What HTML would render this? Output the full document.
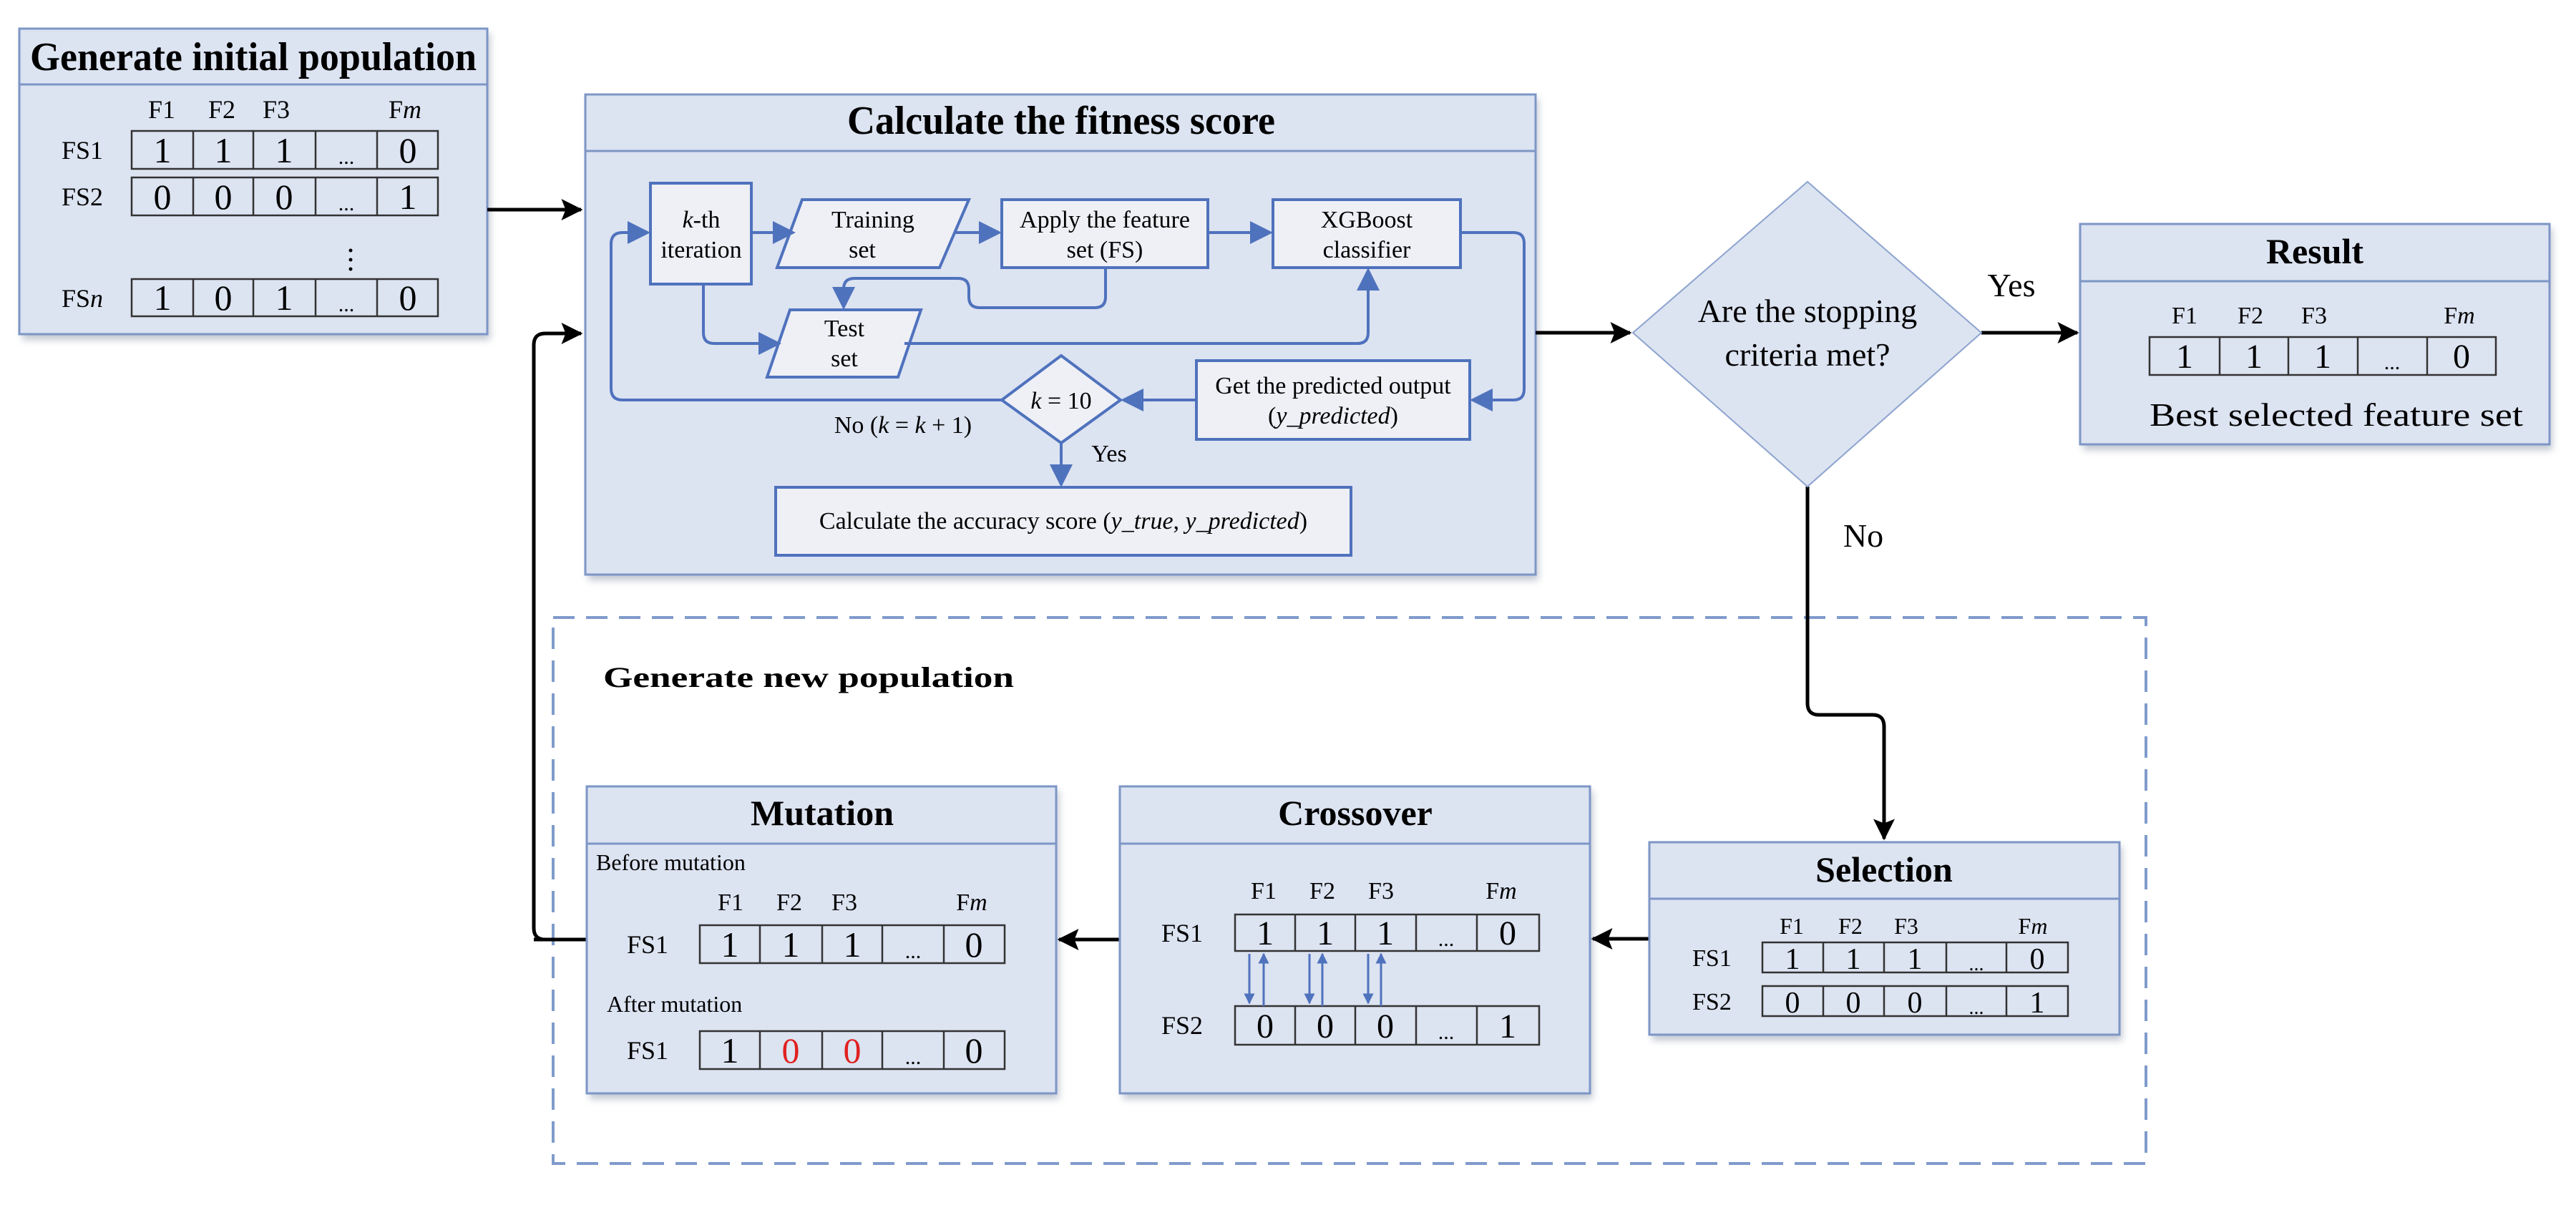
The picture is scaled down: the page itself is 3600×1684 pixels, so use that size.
<!DOCTYPE html>
<html><head><meta charset="utf-8"><style>
html,body{margin:0;padding:0;background:#fff}
svg{display:block;font-family:"Liberation Serif","DejaVu Serif",serif}
svg text{font-family:"Liberation Serif","DejaVu Serif",serif}
.box{fill:#dce3f1;stroke:#7d96c6;stroke-width:3}
.ib{fill:#eef0f6;stroke:#4f72bd;stroke-width:4}
.bl{stroke:#4f72bd;stroke-width:4;fill:none}
.k{stroke:#000;stroke-width:5;fill:none}
.cell{fill:none;stroke:#333;stroke-width:2.5}
.t{font-weight:bold}
</style></head><body>
<svg width="3600" height="1684" viewBox="0 0 3600 1684" xmlns="http://www.w3.org/2000/svg" font-family="Liberation Serif, DejaVu Serif, serif">
<defs>
<marker id="ab" markerWidth="8" markerHeight="8" refX="7" refY="4" orient="auto" markerUnits="strokeWidth"><path d="M0,0 L8,4 L0,8 z" fill="#4f72bd"/></marker>
<marker id="ak" markerWidth="6" markerHeight="6" refX="5.5" refY="3" orient="auto" markerUnits="strokeWidth"><path d="M0,0 L6,3 L0,6 L1.2,3 z" fill="#000"/></marker>
<marker id="as" markerWidth="5" markerHeight="5" refX="4.5" refY="2.5" orient="auto" markerUnits="strokeWidth"><path d="M0,0 L5,2.5 L0,5 z" fill="#4f72bd"/></marker>
<filter id="sh" x="-5%" y="-5%" width="110%" height="115%"><feGaussianBlur stdDeviation="5"/></filter>
</defs>

<g fill="#9aa3b5" opacity="0.6" filter="url(#sh)">
<rect x="31" y="46" width="654" height="429"/>
<rect x="822" y="138" width="1328" height="673"/>
<rect x="2911" y="319" width="656" height="310"/>
<rect x="824" y="1105" width="656" height="431"/>
<rect x="1569" y="1105" width="657" height="431"/>
<rect x="2309" y="1183" width="657" height="271"/>
</g>

<rect x="773" y="863" width="2226" height="763" fill="none" stroke="#7f9bcb" stroke-width="4" stroke-dasharray="30,16"/>
<text x="843" y="960" class="t" font-size="40" textLength="574" lengthAdjust="spacingAndGlyphs">Generate new population</text>

<rect class="box" x="27" y="40" width="654" height="427"/>
<line x1="27" y1="118" x2="681" y2="118" stroke="#7d96c6" stroke-width="3"/>
<text x="42" y="98" class="t" font-size="56" textLength="624" lengthAdjust="spacingAndGlyphs">Generate initial population</text>
<g font-size="36" text-anchor="middle">
<text x="226" y="165">F1</text><text x="310" y="165">F2</text><text x="386" y="165">F3</text><text x="566" y="165">F<tspan font-style="italic">m</tspan></text>
</g>
<g font-size="36">
<text x="86" y="222">FS1</text><text x="86" y="287">FS2</text><text x="86" y="429">FS<tspan font-style="italic">n</tspan></text>
</g>
<g class="cell">
<rect x="184" y="183" width="428" height="53"/><line x1="270" y1="183" x2="270" y2="236"/><line x1="354" y1="183" x2="354" y2="236"/><line x1="441" y1="183" x2="441" y2="236"/><line x1="527" y1="183" x2="527" y2="236"/>
<rect x="184" y="248" width="428" height="53"/><line x1="270" y1="248" x2="270" y2="301"/><line x1="354" y1="248" x2="354" y2="301"/><line x1="441" y1="248" x2="441" y2="301"/><line x1="527" y1="248" x2="527" y2="301"/>
<rect x="184" y="390" width="428" height="52"/><line x1="270" y1="390" x2="270" y2="442"/><line x1="354" y1="390" x2="354" y2="442"/><line x1="441" y1="390" x2="441" y2="442"/><line x1="527" y1="390" x2="527" y2="442"/>
</g>
<g font-size="50" text-anchor="middle">
<text x="227" y="227">1</text><text x="312" y="227">1</text><text x="397" y="227">1</text><text x="484" y="229" font-size="30">...</text><text x="570" y="227">0</text>
<text x="227" y="292">0</text><text x="312" y="292">0</text><text x="397" y="292">0</text><text x="484" y="294" font-size="30">...</text><text x="570" y="292">1</text>
<text x="227" y="433">1</text><text x="312" y="433">0</text><text x="397" y="433">1</text><text x="484" y="435" font-size="30">...</text><text x="570" y="433">0</text>
</g>
<g fill="#000"><circle cx="490" cy="350" r="2.5"/><circle cx="490" cy="363" r="2.5"/><circle cx="490" cy="376" r="2.5"/></g>

<rect class="box" x="818" y="132" width="1328" height="671"/>
<line x1="818" y1="211" x2="2146" y2="211" stroke="#7d96c6" stroke-width="3"/>
<text x="1184" y="187" class="t" font-size="56" textLength="598" lengthAdjust="spacingAndGlyphs">Calculate the fitness score</text>

<rect class="ib" x="909" y="256" width="141" height="141"/>
<polygon class="ib" points="1121,279 1354,279 1313,374 1086,374"/>
<rect class="ib" x="1400" y="279" width="288" height="95"/>
<rect class="ib" x="1779" y="279" width="262" height="95"/>
<polygon class="ib" points="1104,433 1287,433 1255,527 1072,527"/>
<polygon class="ib" points="1483,497 1566,559 1483,619 1400,559"/>
<rect class="ib" x="1672" y="504" width="382" height="110"/>
<rect class="ib" x="1084" y="681" width="804" height="95"/>

<g font-size="34" text-anchor="middle">
<text x="980" y="318"><tspan font-style="italic">k</tspan>-th</text>
<text x="980" y="360">iteration</text>
<text x="1220" y="318">Training</text><text x="1205" y="360">set</text>
<text x="1544" y="318">Apply the feature</text><text x="1544" y="360">set (FS)</text>
<text x="1910" y="318">XGBoost</text><text x="1910" y="360">classifier</text>
<text x="1180" y="470">Test</text><text x="1180" y="512">set</text>
<text x="1483" y="571"><tspan font-style="italic">k</tspan> = 10</text>
<text x="1863" y="550">Get the predicted output</text>
<text x="1863" y="592">(<tspan font-style="italic">y_predicted</tspan>)</text>
<text x="1486" y="739">Calculate the accuracy score (<tspan font-style="italic">y_true</tspan>, <tspan font-style="italic">y_predicted</tspan>)</text>
<text x="1262" y="605">No (<tspan font-style="italic">k</tspan> = <tspan font-style="italic">k</tspan> + 1)</text>
<text x="1550" y="645">Yes</text>
</g>

<g class="bl">
<path d="M1400,559 H870 Q854,559 854,543 V341 Q854,325 870,325 H905" marker-end="url(#ab)"/>
<path d="M1050,325 H1108" marker-end="url(#ab)"/>
<path d="M1334,325 H1396" marker-end="url(#ab)"/>
<path d="M1688,325 H1775" marker-end="url(#ab)"/>
<path d="M1545,374 V415 Q1545,430 1530,430 H1369 Q1354,430 1354,415 V404 Q1354,389 1339,389 H1194 Q1179,389 1179,404 V429" marker-end="url(#ab)"/>
<path d="M983,397 V465 Q983,480 998,480 H1088" marker-end="url(#ab)"/>
<path d="M1264,480 H1897 Q1912,480 1912,465 V378" marker-end="url(#ab)"/>
<path d="M2041,325 H2115 Q2130,325 2130,340 V544 Q2130,559 2115,559 H2058" marker-end="url(#ab)"/>
<path d="M1672,559 H1570" marker-end="url(#ab)"/>
<path d="M1483,619 V677" marker-end="url(#ab)"/>
</g>

<path class="k" d="M681,293 H812" marker-end="url(#ak)"/>
<path class="k" d="M746,1313 H762 Q746,1313 746,1297 V482 Q746,466 762,466 H812" marker-end="url(#ak)"/>
<path class="k" d="M820,1313 H746" />
<path class="k" d="M2146,465 H2278" marker-end="url(#ak)"/>
<path class="k" d="M2769,465 H2903" marker-end="url(#ak)"/>
<path class="k" d="M2526,680 V983 Q2526,999 2542,999 H2617 Q2633,999 2633,1015 V1172" marker-end="url(#ak)"/>
<path class="k" d="M2305,1312 H2226" marker-end="url(#ak)"/>
<path class="k" d="M1565,1313 H1480" marker-end="url(#ak)"/>

<polygon points="2526,254 2769,465 2526,680 2282,465" fill="#dce3f1" stroke="#8da3cf" stroke-width="2"/>
<g font-size="46" text-anchor="middle">
<text x="2526" y="450">Are the stopping</text>
<text x="2526" y="511">criteria met?</text>
<text x="2811" y="414">Yes</text>
<text x="2604" y="764">No</text>
</g>

<rect class="box" x="2907" y="313" width="656" height="308"/>
<line x1="2907" y1="393" x2="3563" y2="393" stroke="#7d96c6" stroke-width="3"/>
<text x="3235" y="368" class="t" font-size="50" text-anchor="middle">Result</text>
<g font-size="34" text-anchor="middle">
<text x="3053" y="452">F1</text><text x="3145" y="452">F2</text><text x="3234" y="452">F3</text><text x="3437" y="452">F<tspan font-style="italic">m</tspan></text>
</g>
<g class="cell">
<rect x="3004" y="471" width="484" height="53"/><line x1="3102" y1="471" x2="3102" y2="524"/><line x1="3198" y1="471" x2="3198" y2="524"/><line x1="3295" y1="471" x2="3295" y2="524"/><line x1="3392" y1="471" x2="3392" y2="524"/>
</g>
<g font-size="48" text-anchor="middle">
<text x="3053" y="514">1</text><text x="3150" y="514">1</text><text x="3246" y="514">1</text><text x="3343" y="516" font-size="30">...</text><text x="3440" y="514">0</text>
</g>
<text x="3265" y="595" font-size="46" text-anchor="middle" textLength="522" lengthAdjust="spacingAndGlyphs">Best selected feature set</text>

<rect class="box" x="820" y="1099" width="656" height="429"/>
<line x1="820" y1="1179" x2="1476" y2="1179" stroke="#7d96c6" stroke-width="3"/>
<text x="1149" y="1153" class="t" font-size="50" text-anchor="middle">Mutation</text>
<text x="833" y="1216" font-size="32">Before mutation</text>
<text x="848" y="1414" font-size="32">After mutation</text>
<g font-size="34" text-anchor="middle">
<text x="1021" y="1272">F1</text><text x="1103" y="1272">F2</text><text x="1180" y="1272">F3</text><text x="1358" y="1272">F<tspan font-style="italic">m</tspan></text>
</g>
<g font-size="36"><text x="876" y="1332">FS1</text><text x="876" y="1480">FS1</text></g>
<g class="cell">
<rect x="978" y="1293" width="426" height="53"/><line x1="1062" y1="1293" x2="1062" y2="1346"/><line x1="1149" y1="1293" x2="1149" y2="1346"/><line x1="1233" y1="1293" x2="1233" y2="1346"/><line x1="1319" y1="1293" x2="1319" y2="1346"/>
<rect x="978" y="1441" width="426" height="53"/><line x1="1062" y1="1441" x2="1062" y2="1494"/><line x1="1149" y1="1441" x2="1149" y2="1494"/><line x1="1233" y1="1441" x2="1233" y2="1494"/><line x1="1319" y1="1441" x2="1319" y2="1494"/>
</g>
<g font-size="50" text-anchor="middle">
<text x="1020" y="1337">1</text><text x="1105" y="1337">1</text><text x="1191" y="1337">1</text><text x="1276" y="1339" font-size="30">...</text><text x="1361" y="1337">0</text>
<text x="1020" y="1485">1</text><text x="1105" y="1485" fill="#e02020">0</text><text x="1191" y="1485" fill="#e02020">0</text><text x="1276" y="1487" font-size="30">...</text><text x="1361" y="1485">0</text>
</g>

<rect class="box" x="1565" y="1099" width="657" height="429"/>
<line x1="1565" y1="1179" x2="2222" y2="1179" stroke="#7d96c6" stroke-width="3"/>
<text x="1894" y="1153" class="t" font-size="50" text-anchor="middle">Crossover</text>
<g font-size="34" text-anchor="middle">
<text x="1766" y="1256">F1</text><text x="1848" y="1256">F2</text><text x="1930" y="1256">F3</text><text x="2098" y="1256">F<tspan font-style="italic">m</tspan></text>
</g>
<g font-size="36"><text x="1623" y="1316">FS1</text><text x="1623" y="1445">FS2</text></g>
<g class="cell">
<rect x="1726" y="1278" width="425" height="51"/><line x1="1810" y1="1278" x2="1810" y2="1329"/><line x1="1894" y1="1278" x2="1894" y2="1329"/><line x1="1979" y1="1278" x2="1979" y2="1329"/><line x1="2064" y1="1278" x2="2064" y2="1329"/>
<rect x="1726" y="1406" width="425" height="54"/><line x1="1810" y1="1406" x2="1810" y2="1460"/><line x1="1894" y1="1406" x2="1894" y2="1460"/><line x1="1979" y1="1406" x2="1979" y2="1460"/><line x1="2064" y1="1406" x2="2064" y2="1460"/>
</g>
<g font-size="48" text-anchor="middle">
<text x="1768" y="1320">1</text><text x="1852" y="1320">1</text><text x="1936" y="1320">1</text><text x="2021" y="1322" font-size="30">...</text><text x="2107" y="1320">0</text>
<text x="1768" y="1450">0</text><text x="1852" y="1450">0</text><text x="1936" y="1450">0</text><text x="2021" y="1452" font-size="30">...</text><text x="2107" y="1450">1</text>
</g>
<g stroke="#4f72bd" stroke-width="3" fill="none">
<path d="M1746,1333 V1402" marker-end="url(#as)"/><path d="M1766,1406 V1333" marker-end="url(#as)"/>
<path d="M1830,1333 V1402" marker-end="url(#as)"/><path d="M1848,1406 V1333" marker-end="url(#as)"/>
<path d="M1912,1333 V1402" marker-end="url(#as)"/><path d="M1930,1406 V1333" marker-end="url(#as)"/>
</g>

<rect class="box" x="2305" y="1177" width="657" height="269"/>
<line x1="2305" y1="1256" x2="2962" y2="1256" stroke="#7d96c6" stroke-width="3"/>
<text x="2633" y="1232" class="t" font-size="50" text-anchor="middle">Selection</text>
<g font-size="32" text-anchor="middle">
<text x="2504" y="1305">F1</text><text x="2586" y="1305">F2</text><text x="2664" y="1305">F3</text><text x="2841" y="1305">F<tspan font-style="italic">m</tspan></text>
</g>
<g font-size="34"><text x="2365" y="1350">FS1</text><text x="2365" y="1411">FS2</text></g>
<g class="cell">
<rect x="2463" y="1317" width="427" height="42"/><line x1="2548" y1="1317" x2="2548" y2="1359"/><line x1="2633" y1="1317" x2="2633" y2="1359"/><line x1="2720" y1="1317" x2="2720" y2="1359"/><line x1="2804" y1="1317" x2="2804" y2="1359"/>
<rect x="2463" y="1378" width="427" height="42"/><line x1="2548" y1="1378" x2="2548" y2="1420"/><line x1="2633" y1="1378" x2="2633" y2="1420"/><line x1="2720" y1="1378" x2="2720" y2="1420"/><line x1="2804" y1="1378" x2="2804" y2="1420"/>
</g>
<g font-size="42" text-anchor="middle">
<text x="2505" y="1354">1</text><text x="2590" y="1354">1</text><text x="2676" y="1354">1</text><text x="2762" y="1356" font-size="28">...</text><text x="2847" y="1354">0</text>
<text x="2505" y="1415">0</text><text x="2590" y="1415">0</text><text x="2676" y="1415">0</text><text x="2762" y="1417" font-size="28">...</text><text x="2847" y="1415">1</text>
</g>
</svg>
</body></html>
